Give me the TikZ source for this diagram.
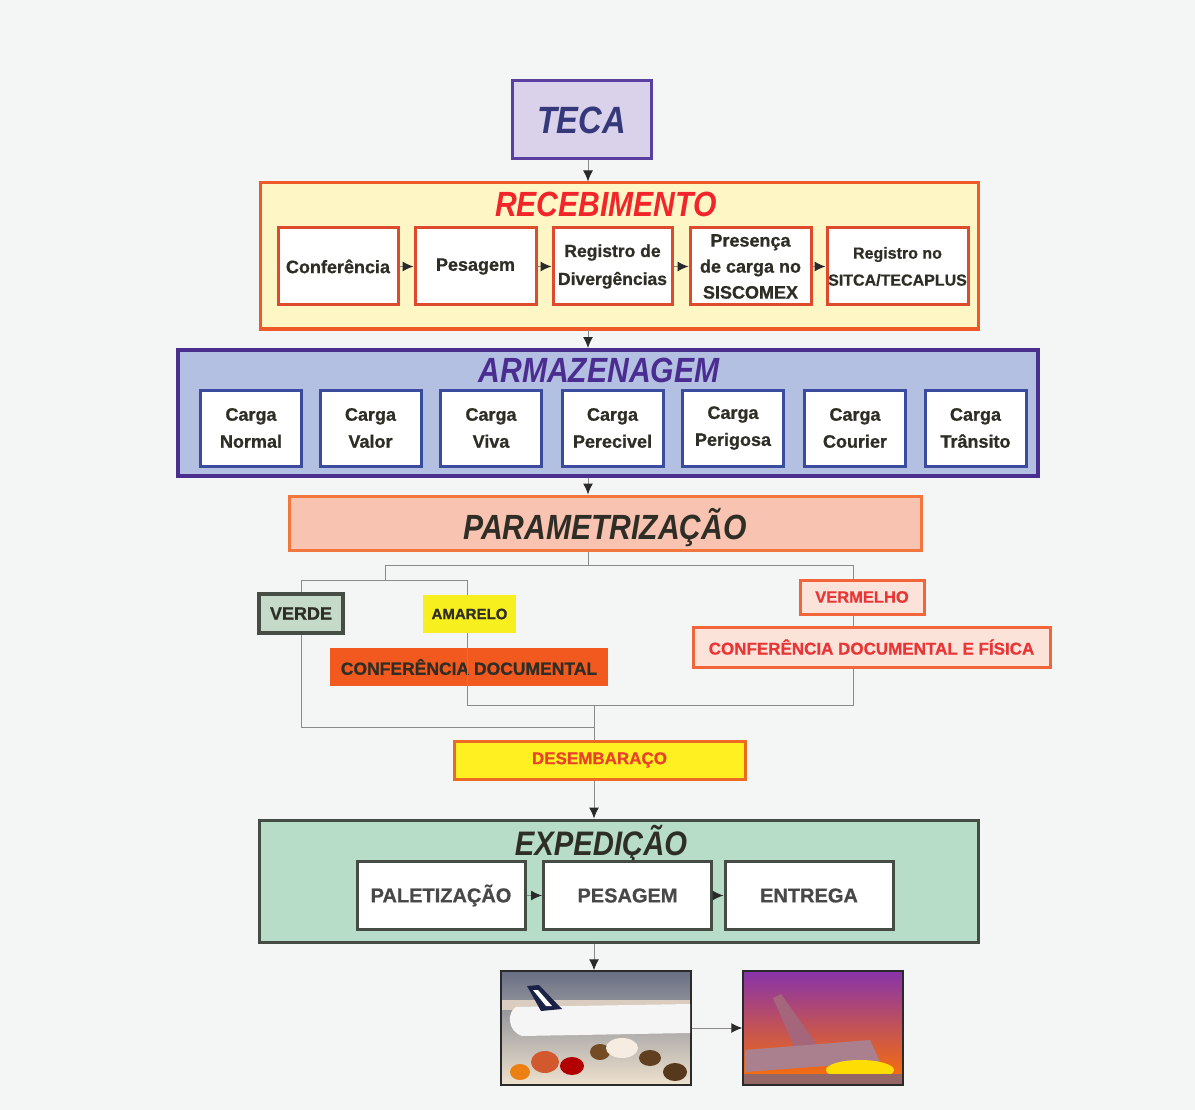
\documentclass[tikz,border=0pt]{standalone}
\usepackage{fontspec}
\setmainfont{Liberation Sans}[BoldFeatures={FakeBold=0.8}]
\newfontfamily\titlefont{Liberation Sans}[FakeStretch=0.86]
\usepackage{tikz}
\usetikzlibrary{arrows.meta}

\definecolor{cBack}{HTML}{F4F6F6}
\definecolor{cTecaFill}{HTML}{D9D2EA}
\definecolor{cTecaLine}{HTML}{5B3FA0}
\definecolor{cTecaText}{HTML}{35387A}
\definecolor{cRecFill}{HTML}{FFF6C6}
\definecolor{cRecLine}{HTML}{F05A2A}
\definecolor{cRecTitle}{HTML}{F2262A}
\definecolor{cRecIn}{HTML}{DE4A2E}
\definecolor{cArmFill}{HTML}{B4C0E2}
\definecolor{cArmLine}{HTML}{4A2F8E}
\definecolor{cArmTitle}{HTML}{4B2D92}
\definecolor{cArmIn}{HTML}{3B4B9E}
\definecolor{cParFill}{HTML}{F9C3B1}
\definecolor{cParLine}{HTML}{F2773F}
\definecolor{cDark}{HTML}{2E2E26}
\definecolor{cVerdeFill}{HTML}{C5DAC8}
\definecolor{cVerdeLine}{HTML}{454D45}
\definecolor{cAmarFill}{HTML}{F7EF1E}
\definecolor{cDocFill}{HTML}{F2591F}
\definecolor{cVermFill}{HTML}{FCE3DA}
\definecolor{cVermLine}{HTML}{F2653A}
\definecolor{cVermText}{HTML}{E83535}
\definecolor{cDesFill}{HTML}{FFF021}
\definecolor{cDesLine}{HTML}{EC6A23}
\definecolor{cDesText}{HTML}{E8432A}
\definecolor{cExpFill}{HTML}{B7DDC9}
\definecolor{cExpLine}{HTML}{444C44}
\definecolor{cExpText}{HTML}{484848}
\definecolor{cLink}{HTML}{8A8A8A}
\definecolor{cTip}{HTML}{2A2A2A}

\tikzset{
    >={Latex[length=11pt,width=10pt,color=cTip]},
    box/.style={draw, rectangle, inner sep=0pt, align=center},
    ttl/.style={anchor=base, inner sep=0pt, font={\titlefont\bfseries\itshape\fontsize{35}{40}\selectfont}},
    recbox/.style={box, draw=cRecIn, fill=white, line width=3pt, minimum height=77pt, text=cDark, font={\bfseries\fontsize{18}{26}\selectfont}},
    armbox/.style={box, draw=cArmIn, fill=white, line width=3pt, minimum width=101pt, minimum height=76pt, text=cDark, font={\bfseries\fontsize{18}{27}\selectfont}},
    expbox/.style={box, draw=cExpLine, fill=white, line width=3pt, minimum width=168pt, minimum height=68pt, text=cExpText, font={\bfseries\fontsize{20}{24}\selectfont}},
    flag/.style={box, text=cDark, font={\bfseries\fontsize{17.5}{20}\selectfont}},
    link/.style={draw=cLink, line width=1pt}
}

\begin{document}
\begin{tikzpicture}[x=1pt,y=-1pt]

    \useasboundingbox (0,0) rectangle (1195,1110);
    \fill[cBack] (0,0) rectangle (1195,1110);

    \coordinate (ax) at (588,0);
    \coordinate (bx) at (594,0);

    \node[box, draw=cTecaLine, fill=cTecaFill, line width=3pt, minimum width=139pt, minimum height=78pt, text=cTecaText, font={\titlefont\bfseries\itshape\fontsize{38}{40}\selectfont}] (teca) at (581.5,120) {TECA};

    \node[box, draw=cRecLine, fill=cRecFill, line width=3pt, minimum width=718pt, minimum height=146pt] (recv) at (619,256) {};
    \node[ttl, text=cRecTitle] (recvt) at (606,217) {RECEBIMENTO};
    \node[recbox, minimum width=120pt] (conf) at (338,266.5) {Conferência};
    \node[recbox, minimum width=121pt] (pesa) at (475.5,266.5) {Pesagem};
    \node[recbox, minimum width=119pt, font={\bfseries\fontsize{17.5}{28}\selectfont}] (regd) at (612.5,266.5) {Registro de\\Divergências};
    \node[recbox, minimum width=121pt] (pres) at (750.5,266.5) {Presença\\de carga no\\SISCOMEX};
    \node[recbox, minimum width=141pt, font={\bfseries\fontsize{16}{27}\selectfont}] (sitc) at (897.5,266.5) {Registro no\\SITCA/TECAPLUS};

    \node[box, draw=cArmLine, fill=cArmFill, line width=4pt, minimum width=860pt, minimum height=126pt] (arm) at (608,413) {};
    \node[ttl, text=cArmTitle] (armt) at (599,382) {ARMAZENAGEM};
    \node[armbox] (normal) at (251,428) {Carga\\Normal};
    \node[armbox] (valor) at (370.5,428) {Carga\\Valor};
    \node[armbox] (viva) at (491,428) {Carga\\Viva};
    \node[armbox] (perec) at (612.5,428) {Carga\\Perecivel};
    \node[armbox] (perig) at (733,428) {Carga\\Perigosa};
    \node[armbox] (courier) at (855,428) {Carga\\Courier};
    \node[armbox] (transito) at (975.5,428) {Carga\\Trânsito};

    \node[box, draw=cParLine, fill=cParFill, line width=3pt, minimum width=632pt, minimum height=54pt, text=cDark, text height=33pt, text depth=0pt, font={\titlefont\bfseries\itshape\fontsize{35}{40}\selectfont}] (param) at (605,523) {PARAMETRIZAÇÃO};

    \node[flag, draw=cVerdeLine, fill=cVerdeFill, line width=3.5pt, minimum width=84pt, minimum height=39pt, font={\bfseries\fontsize{18}{20}\selectfont}] (verde) at (301,613.5) {VERDE};
    \node[flag, draw=none, fill=cAmarFill, minimum width=93pt, minimum height=38pt, font={\bfseries\fontsize{15}{18}\selectfont}] (amar) at (469.5,614) {AMARELO};
    \node[flag, draw=none, fill=cDocFill, minimum width=278pt, minimum height=38pt] (cdoc) at (469,667) {CONFERÊNCIA DOCUMENTAL};
    \node[flag, draw=cVermLine, fill=cVermFill, line width=3pt, minimum width=124pt, minimum height=34pt, text=cVermText, font={\bfseries\fontsize{16.5}{20}\selectfont}] (verm) at (862,597) {VERMELHO};
    \node[flag, draw=cVermLine, fill=cVermFill, line width=3pt, minimum width=357pt, minimum height=40pt, text=cVermText, font={\bfseries\fontsize{17}{20}\selectfont}] (cdef) at (871.5,647) {CONFERÊNCIA DOCUMENTAL E FÍSICA};

    \node[flag, draw=cDesLine, fill=cDesFill, line width=3pt, minimum width=291pt, minimum height=38pt, text=cDesText, font={\bfseries\fontsize{17}{20}\selectfont}] (des) at (599.5,760) {DESEMBARAÇO};

    \node[box, draw=cExpLine, fill=cExpFill, line width=3pt, minimum width=719pt, minimum height=122pt] (exp) at (618.5,881) {};
    \node[ttl, text=cDark, font={\titlefont\bfseries\itshape\fontsize{34}{40}\selectfont}] (expt) at (601,855) {EXPEDIÇÃO};
    \node[expbox] (pal) at (441,895.5) {PALETIZAÇÃO};
    \node[expbox] (pes) at (627.5,895.5) {PESAGEM};
    \node[expbox] (ent) at (809,895.5) {ENTREGA};

    \node[box, draw=cTip, line width=1.5pt, minimum width=190pt, minimum height=114pt, top color=black!42!cArmFill, bottom color=black!10!cRecFill!60!brown!40] (ph1) at (596,1028) {};
    \fill[gray!45!brown!40] (502,1000) rectangle (690,1010);
    \fill[white!92!gray] (516,1007) -- (690,1004) -- (690,1033) -- (522,1036) .. controls (507,1031) and (507,1012) .. (516,1007);
    \fill[black!55!cArmIn] (527,986) -- (539,985) -- (562,1009) -- (541,1011) -- cycle;
    \fill[white] (533,990) -- (538,990) -- (552,1006) -- (546,1006) -- cycle;
    \fill[brown!70!red] (545,1062) ellipse (14 and 11);
    \fill[red!70!black] (572,1066) ellipse (12 and 9);
    \fill[brown!60!black] (600,1052) ellipse (10 and 8);
    \fill[white!85!brown] (622,1048) ellipse (16 and 10);
    \fill[brown!50!black] (650,1058) ellipse (11 and 8);
    \fill[orange!70!brown] (520,1072) ellipse (10 and 8);
    \fill[brown!45!black] (675,1072) ellipse (12 and 9);

    \node[box, draw=cTip, line width=1.5pt, minimum width=160pt, minimum height=114pt, top color=blue!45!purple!80, middle color=magenta!55!pink, bottom color=orange!90!red] (ph2) at (823,1028) {};
    \fill[black!45!purple!60] (773,998) -- (781,994) -- (822,1052) -- (800,1060) -- cycle;
    \fill[black!55!purple!50] (745,1050) -- (870,1040) -- (880,1062) -- (745,1072) -- cycle;
    \fill[yellow!80!orange] (860,1070) ellipse (34 and 10);
    \fill[black!70!red!60] (744,1074) rectangle (902,1084);

    \draw[link,->] (teca.south -| ax) -- (recv.north -| ax);
    \draw[link,->] (conf) -- (pesa);
    \draw[link,->] (pesa) -- (regd);
    \draw[link,->] (regd) -- (pres);
    \draw[link,->] (pres) -- (sitc);
    \draw[link,->] (recv.south -| ax) -- (arm.north -| ax);
    \draw[link,->] (arm.south -| ax) -- (param.north -| ax);

    \coordinate (fl) at (385,565);
    \coordinate (fr) at (853,565);
    \coordinate (gl) at (301,580);
    \coordinate (gr) at (467,580);
    \coordinate (kl) at (467,705);
    \coordinate (kr) at (853,705);
    \coordinate (jl) at (301,727);

    \draw[link] (param.south -| ax) -- (ax |- fl);
    \draw[link] (fl) -- (fr);
    \draw[link] (fl) -- (fl |- gl);
    \draw[link] (gl) -- (gr);
    \draw[link] (gl) -- (verde.north);
    \draw[link] (verde.south) -- (jl) -- (jl -| bx);
    \draw[link] (gr) -- (gr |- amar.north);
    \draw[link] (gr |- amar.south) -- (kl) -- (kr) -- (fr |- cdef.south);
    \draw[link] (fr |- cdef.north) -- (fr |- verm.south);
    \draw[link] (fr) -- (fr |- verm.north);
    \draw[link] (kl -| bx) -- (des.north -| bx);
    \draw[link,->] (des.south -| bx) -- (exp.north -| bx);
    \draw[link,->] (pal) -- (pes);
    \draw[link,->] (pes) -- (ent);
    \draw[link,->] (exp.south -| bx) -- (ph1.north -| bx);
    \draw[link,->] (ph1.east) -- (ph2.west);

\end{tikzpicture}
\end{document}
